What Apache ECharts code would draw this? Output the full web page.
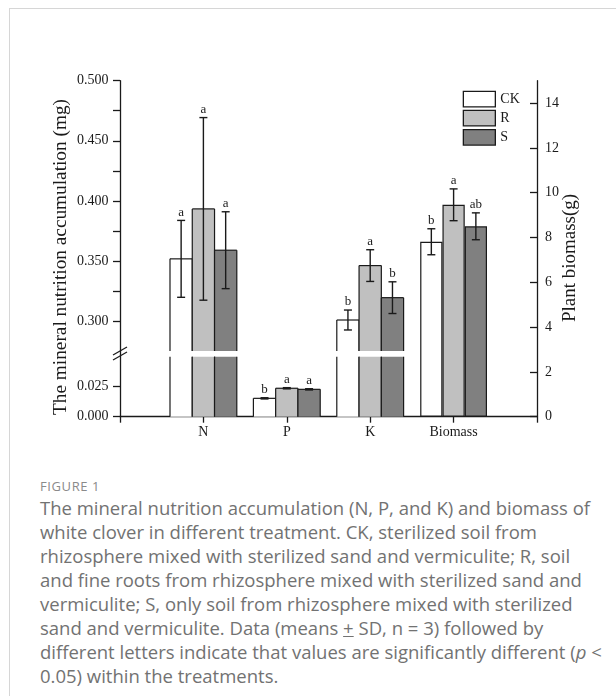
<!DOCTYPE html>
<html><head><meta charset="utf-8">
<script src="https://cdn.jsdelivr.net/npm/echarts@6/dist/echarts.min.js"></script>
<style>
html,body{margin:0;padding:0;background:#fff;}
#wrap{position:relative;width:616px;height:696px;overflow:hidden;background:#fff;}
#frame{position:absolute;left:9px;top:8px;width:800px;height:900px;border-left:1px solid #d6d6d6;border-top:1px solid #d6d6d6;}
#chart{position:absolute;left:0;top:0;width:616px;height:470px;}
#cap{position:absolute;left:40px;top:476px;width:576px;font-family:'Open Sans',sans-serif;color:#727272;font-size:18.5px;line-height:24px;white-space:nowrap;}
#fig{font-size:13px;letter-spacing:0.6px;line-height:20px;color:#8a8a8a;}
</style></head>
<body><div id="wrap"><div id="frame"></div><div id="chart"></div>
<div id="cap"><div id="fig">FIGURE 1</div>
The mineral nutrition accumulation (N, P, and K) and biomass of<br>
white clover in different treatment. CK, sterilized soil from<br>
rhizosphere mixed with sterilized sand and vermiculite; R, soil<br>
and fine roots from rhizosphere mixed with sterilized sand and<br>
vermiculite; S, only soil from rhizosphere mixed with sterilized<br>
sand and vermiculite. Data (means <span style="text-decoration:underline">+</span> SD, n = 3) followed by<br>
different letters indicate that values are significantly different (<i>p</i> &lt;<br>
0.05) within the treatments.
</div></div>
<script>
// ---- data ----
const categories = ['', 'N', 'P', 'K', 'Biomass', ''];
const treatments = ['CK', 'R', 'S'];
// nutrients N, P, K (mg)
const ckNutrient = [0.3517, 0.0153, 0.3008];
const ckNutrientSD = [0.032, 0.0005, 0.0083];
const rNutrient = [0.3933, 0.0237, 0.3461];
const rNutrientSD = [0.076, 0.0005, 0.0132];
const sNutrient = [0.3589, 0.0228, 0.3194];
const sNutrientSD = [0.032, 0.0005, 0.0132];
// biomass (g)
const biomass = [7.81, 9.46, 8.50];
const biomassSD = [0.58, 0.71, 0.60];
// significance letters: N, P, K, Biomass
const ckLetters = ['a', 'b', 'b', 'b'];
const rLetters = ['a', 'a', 'a', 'a'];
const sLetters = ['a', 'a', 'b', 'ab'];
// axis ticks
const upperTicks = [0.300, 0.325, 0.350, 0.375, 0.400, 0.425, 0.450, 0.475, 0.500];
const upperLabels = [0.300, 0.350, 0.400, 0.450, 0.500];
const lowerTicks = [0.000, 0.025];
const rightTicks = [0, 2, 4, 6, 8, 10, 12, 14];

// ---- build ----
const nutr = [ckNutrient, rNutrient, sNutrient];
const nutrSD = [ckNutrientSD, rNutrientSD, sNutrientSD];
const letters = [ckLetters, rLetters, sLetters];
const fills = ['#ffffff', '#c0c0c0', '#808080'];
const SERIF = 'Liberation Serif';
const INK = '#1a1a1a';
const BAR_FRAC = 0.267;
const UPPER_MIN = 0.275;
const nutrCat = [1, 2, 3]; // category index of N,P,K
const bioCat = 4;

function bioData(k) {
  const d = categories.map(() => null);
  d[bioCat] = biomass[k];
  return d;
}
// nutrient bars (drawn through the axes; the break edges are left open)
function barRender(params, api) {
  const cat = api.value(0), v = api.value(1), k = api.value(2);
  const cs = params.coordSys;
  const band = api.size([1, 0])[0];
  const bw = band * BAR_FRAC;
  const p = api.coord([cat, v]);
  const x0 = p[0] + (k - 1) * bw - bw / 2, x1 = x0 + bw;
  const inside = p[1] >= cs.y;
  const yT = Math.max(p[1], cs.y);
  const yB = cs.y + cs.height;
  const ls = { stroke: INK, lineWidth: 1.2 };
  const ch = [
    { type: 'rect', shape: { x: x0, y: yT, width: bw, height: yB - yT }, style: { fill: fills[k] } },
    { type: 'line', shape: { x1: x0, y1: yT, x2: x0, y2: yB }, style: ls },
    { type: 'line', shape: { x1: x1, y1: yT, x2: x1, y2: yB }, style: ls }
  ];
  if (inside) ch.push({ type: 'line', shape: { x1: x0, y1: yT, x2: x1, y2: yT }, style: ls });
  return { type: 'group', children: ch };
}
function errRender(letterFor) {
  return function (params, api) {
    const cat = api.value(0), v = api.value(1), sd = api.value(2), k = api.value(3);
    const band = api.size([1, 0])[0];
    const bw = band * BAR_FRAC;
    const off = (k - 1) * bw;
    const pT = api.coord([cat, v + sd]);
    const pB = api.coord([cat, v - sd]);
    const x = pT[0] + off;
    const cap = 4;
    const ls = { stroke: INK, lineWidth: 1.4 };
    return {
      type: 'group', children: [
        { type: 'line', shape: { x1: x, y1: pT[1], x2: x, y2: pB[1] }, style: ls },
        { type: 'line', shape: { x1: x - cap, y1: pT[1], x2: x + cap, y2: pT[1] }, style: ls },
        { type: 'line', shape: { x1: x - cap, y1: pB[1], x2: x + cap, y2: pB[1] }, style: ls },
        { type: 'text', x: x, y: pT[1] - 1.5, style: { text: letterFor(params.dataIndex), textAlign: 'center', textVerticalAlign: 'bottom', font: '13px ' + SERIF, fill: INK } }
      ]
    };
  };
}
const upperBars = [], lowerBars = [];
const upperErr = [], upperErrL = [], lowerErr = [], lowerErrL = [], bioErr = [], bioErrL = [];
for (let k = 0; k < 3; k++) {
  nutrCat.forEach((c, i) => {
    lowerBars.push([c, nutr[k][i], k]);
    if (nutr[k][i] >= UPPER_MIN) {
      upperBars.push([c, nutr[k][i], k]);
      upperErr.push([c, nutr[k][i], nutrSD[k][i], k]); upperErrL.push(letters[k][i]);
    } else {
      lowerErr.push([c, nutr[k][i], nutrSD[k][i], k]); lowerErrL.push(letters[k][i]);
    }
  });
  bioErr.push([bioCat, biomass[k], biomassSD[k], k]); bioErrL.push(letters[k][3]);
}

const G = { left: 120, right: 79 };
const series = [];
treatments.forEach((name, k) => {
  series.push({ type: 'bar', name, xAxisIndex: 2, yAxisIndex: 3, barWidth: (BAR_FRAC * 100) + '%', barGap: '0%',
    data: bioData(k), itemStyle: { color: fills[k], borderColor: INK, borderWidth: 1.2 } });
});
series.push({ type: 'custom', name: 'barsU', xAxisIndex: 0, yAxisIndex: 0, z: 3, data: upperBars, renderItem: barRender });
series.push({ type: 'custom', name: 'barsL', xAxisIndex: 1, yAxisIndex: 1, z: 3, data: lowerBars, renderItem: barRender });
series.push({ type: 'custom', name: 'errU', xAxisIndex: 0, yAxisIndex: 0, z: 5, data: upperErr, renderItem: errRender(i => upperErrL[i]) });
series.push({ type: 'custom', name: 'errL', xAxisIndex: 1, yAxisIndex: 1, z: 5, data: lowerErr, renderItem: errRender(i => lowerErrL[i]) });
series.push({ type: 'custom', name: 'errB', xAxisIndex: 2, yAxisIndex: 3, z: 5, data: bioErr, renderItem: errRender(i => bioErrL[i]) });

const axLine = { lineStyle: { color: INK, width: 1.3 } };
const hiddenX = { type: 'category', data: categories, boundaryGap: false, show: false };
const fmt3 = v => Number(v).toFixed(3);
const lab = { fontFamily: SERIF, fontSize: 14, color: INK };

const option = {
  animation: false,
  textStyle: { fontFamily: SERIF },
  grid: [
    { left: G.left, right: G.right, top: 80.7, height: 270.3 },
    { left: G.left, right: G.right, top: 356.7, height: 60 },
    { left: G.left, right: G.right, top: 80.7, height: 336 }
  ],
  xAxis: [
    Object.assign({ gridIndex: 0 }, hiddenX),
    Object.assign({ gridIndex: 1 }, hiddenX),
    { gridIndex: 2, type: 'category', data: categories, boundaryGap: false,
      axisLine: axLine, axisTick: { show: true, length: 6, lineStyle: { color: INK, width: 1.3 } },
      axisLabel: Object.assign({ interval: 0, margin: 9 }, lab),
      splitLine: { show: false } }
  ],
  yAxis: [
    { gridIndex: 0, type: 'value', min: UPPER_MIN, max: 0.5, interval: 0.025, position: 'left',
      axisLine: { show: false }, splitLine: { show: false },
      axisTick: { show: true, length: 7, customValues: upperTicks, lineStyle: { color: INK, width: 1.3 } },
      axisLabel: Object.assign({ customValues: upperLabels, formatter: fmt3, margin: 11.5 }, lab) },
    { gridIndex: 1, type: 'value', min: 0, max: 0.05, interval: 0.025, position: 'left',
      axisLine: { show: false }, splitLine: { show: false },
      axisTick: { show: true, length: 7, customValues: lowerTicks, lineStyle: { color: INK, width: 1.3 } },
      axisLabel: Object.assign({ customValues: lowerTicks, formatter: fmt3, margin: 11.5 }, lab) },
    { gridIndex: 2, type: 'value', min: 0, max: 1, position: 'left',
      axisLine: Object.assign({ show: true }, axLine), axisTick: { show: false }, axisLabel: { show: false }, splitLine: { show: false } },
    { gridIndex: 2, type: 'value', min: 0, max: 15, interval: 1, position: 'right',
      axisLine: Object.assign({ show: true }, axLine), splitLine: { show: false },
      axisTick: { show: true, inside: true, length: 7, customValues: rightTicks, lineStyle: { color: INK, width: 1.3 } },
      axisLabel: Object.assign({ customValues: rightTicks, margin: 8 }, lab) }
  ],
  legend: {
    data: treatments, orient: 'vertical', left: 462.7, top: 90.7, padding: 0,
    itemWidth: 32, itemHeight: 15.5, itemGap: 2.3, icon: 'rect',
    itemStyle: { borderColor: INK, borderWidth: 1.3 },
    textStyle: { fontFamily: SERIF, fontSize: 14, color: INK }
  },
  graphic: [
    { type: 'text', x: 61, y: 257, rotation: Math.PI / 2, z: 10,
      style: { text: 'The mineral nutrition accumulation (mg)', font: '19.3px ' + SERIF, fill: INK, textAlign: 'center', textVerticalAlign: 'middle' } },
    { type: 'text', x: 570, y: 258, rotation: Math.PI / 2, z: 10,
      style: { text: 'Plant biomass(g)', font: '19px ' + SERIF, fill: INK, textAlign: 'center', textVerticalAlign: 'middle' } },
    { type: 'line', z: 10, shape: { x1: 113, y1: 355, x2: 127, y2: 347 }, style: { stroke: INK, lineWidth: 1.3 } },
    { type: 'line', z: 10, shape: { x1: 113, y1: 360, x2: 127, y2: 352 }, style: { stroke: INK, lineWidth: 1.3 } }
  ],
  series
};
const chart = echarts.init(document.getElementById('chart'), null, { renderer: 'canvas' });
chart.setOption(option);
</script></body></html>
